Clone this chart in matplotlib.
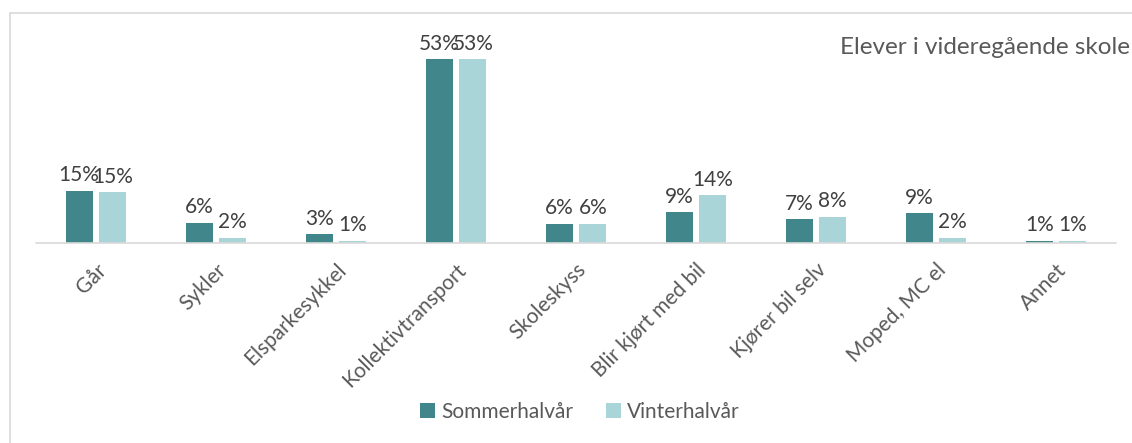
import matplotlib.pyplot as plt
import numpy as np
from matplotlib.patches import Rectangle

# data (bar heights in %, labels are rounded)
categories = ['Går', 'Sykler', 'Elsparkesykkel', 'Kollektivtransport', 'Skoleskyss',
              'Blir kjørt med bil', 'Kjører bil selv', 'Moped, MC el', 'Annet']
sommer = [15.0, 5.8, 2.5, 53.0, 5.5, 8.9, 6.9, 8.6, 0.6]
vinter = [14.6, 1.5, 0.6, 53.0, 5.5, 13.8, 7.5, 1.5, 0.6]
sommer_labels = ['15%', '6%', '3%', '53%', '6%', '9%', '7%', '9%', '1%']
vinter_labels = ['15%', '2%', '1%', '53%', '6%', '14%', '8%', '2%', '1%']

plt.rcParams['font.family'] = ['Lato', 'DejaVu Sans']
text_color = '#404040'
grey = '#595959'

fig = plt.figure(figsize=(11.32, 4.43), dpi=100)
ax = fig.add_axes([36 / 1132, 200 / 443, 1080 / 1132, 208 / 443])

x = np.arange(len(categories))
width = 0.225
offset = 0.14
b1 = ax.bar(x - offset, sommer, width, color='#40868A', label='Sommerhalvår')
b2 = ax.bar(x + offset, vinter, width, color='#A9D5D9', label='Vinterhalvår')

for bars, labels in [(b1, sommer_labels), (b2, vinter_labels)]:
    for bar, lab in zip(bars, labels):
        ax.annotate(lab, (bar.get_x() + bar.get_width() / 2, bar.get_height()),
                    xytext=(0, 4), textcoords='offset points', ha='center', va='bottom',
                    fontsize=15, color=text_color)

ax.set_xlim(-0.5, len(categories) - 0.5)
ax.set_ylim(0, 60)
ax.set_yticks([])
for s in ['top', 'right', 'left']:
    ax.spines[s].set_visible(False)
ax.spines['bottom'].set_color('#D9D9D9')
ax.spines['bottom'].set_linewidth(1.2)
ax.set_xticks(x)
ax.set_xticklabels(categories, rotation=45, ha='right', rotation_mode='anchor',
                   fontsize=15, color=grey)
ax.tick_params(axis='x', length=0, pad=12)

fig.text(840 / 1132, 1 - 47 / 443, 'Elever i videregående skole', fontsize=17.5,
         color=grey, ha='left', va='center')

fig.legend(handles=[b1, b2], loc='center', bbox_to_anchor=(580 / 1132, 1 - 412 / 443),
           ncol=2, frameon=False, fontsize=15, handlelength=0.7, handleheight=0.7,
           handletextpad=0.3, columnspacing=1.6, labelcolor=grey)

# outer chart border
fig.patches.append(Rectangle((10 / 1132, -0.1), 1.2, 1 - 13 / 443 + 0.1,
                             transform=fig.transFigure, fill=False,
                             edgecolor='#D9D9D9', linewidth=1.2))

fig.savefig('out.png', dpi=100)
